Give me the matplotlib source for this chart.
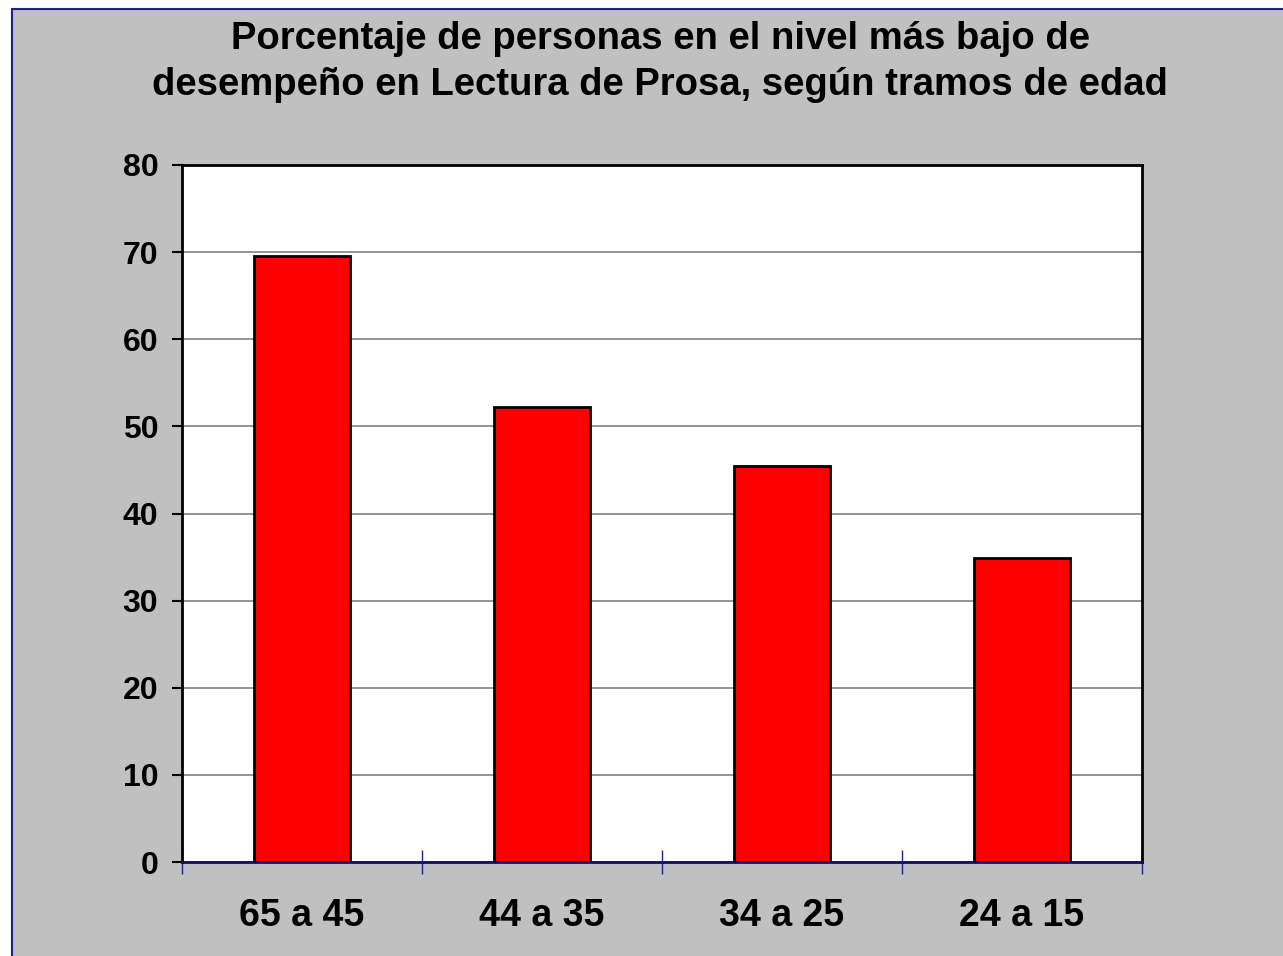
import matplotlib
matplotlib.use("Agg")
import matplotlib.pyplot as plt
from matplotlib.patches import Rectangle
from matplotlib.ticker import FixedLocator, NullFormatter

plt.rcParams['font.family'] = ['Liberation Sans', 'DejaVu Sans']

categories = ["65 a 45", "44 a 35", "34 a 25", "24 a 15"]
values = [69.5, 52.2, 45.4, 34.9]
yticks = [0, 10, 20, 30, 40, 50, 60, 70, 80]
title = "Porcentaje de personas en el nivel más bajo de\ndesempeño en Lectura de Prosa, según tramos de edad"

W, H = 1283, 956
fig = plt.figure(figsize=(W / 100, H / 100), dpi=100)
fig.patch.set_facecolor("white")

# gray panel with navy border
bg = Rectangle((12 / W, -0.01), 1.0, 1 - 9 / H + 0.01, transform=fig.transFigure,
               facecolor="#C0C0C0", edgecolor="#1F1F8F", linewidth=1.5, zorder=-5)
fig.patches.append(bg)

ax = fig.add_axes([182 / W, 1 - 862 / H, (1142 - 182) / W, (862 - 165) / H])
ax.set_zorder(1)
ax.set_facecolor("white")

x = list(range(len(categories)))
ax.bar(x, values, width=0.4, color="#FF0000", edgecolor="black", linewidth=2.0, zorder=3)

ax.set_xlim(-0.5, len(categories) - 0.5)
ax.set_ylim(0, 80)
ax.set_yticks(yticks)
ax.set_yticklabels([str(v) for v in yticks], fontsize=23, fontweight="bold")
ax.yaxis.grid(True, color="#808080", linewidth=1.2, zorder=1)
ax.set_axisbelow(True)

# category labels at centers (no tick), ticks at boundaries
ax.set_xticks(x)
ax.set_xticklabels(categories, fontsize=27, fontweight="bold")
ax.tick_params(axis="x", which="major", length=0, pad=26)
ax.xaxis.set_minor_locator(FixedLocator([i - 0.5 for i in range(len(categories) + 1)]))
ax.xaxis.set_minor_formatter(NullFormatter())
ax.tick_params(axis="x", which="minor", direction="inout", length=17, width=1.0, color="#2020A0")
ax.tick_params(axis="y", direction="out", length=7, width=1.5, color="black", pad=10)

for side in ["left", "top", "right"]:
    ax.spines[side].set_color("black")
    ax.spines[side].set_linewidth(2.0)
ax.spines["bottom"].set_color("#101060")
ax.spines["bottom"].set_linewidth(2.0)

fig.text(660 / W, 1 - 62 / H, title, ha="center", va="center", fontsize=27.5,
         fontweight="bold", linespacing=1.35)

fig.savefig("out.png", dpi=100, facecolor=fig.get_facecolor())
